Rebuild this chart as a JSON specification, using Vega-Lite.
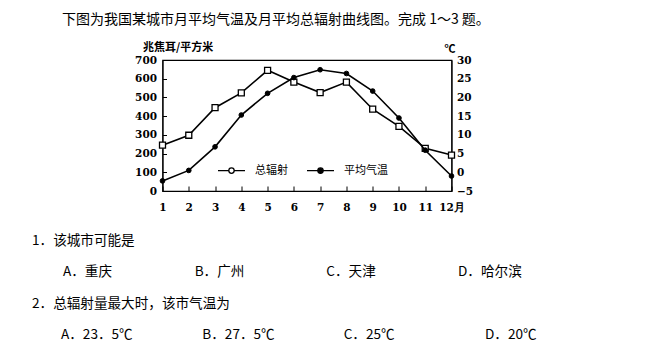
{
  "$schema": "https://vega.github.io/schema/vega-lite/v6.json",
  "background": "white",
  "padding": {"left": 32, "top": 13, "right": 5, "bottom": 5},
  "title": {
    "text": "下图为我国某城市月平均气温及月平均总辐射曲线图。完成 1～3 题。",
    "anchor": "start",
    "frame": "group",
    "dx": -1,
    "offset": 13,
    "font": "Noto Sans CJK SC",
    "fontSize": 14,
    "fontWeight": "normal",
    "color": "black"
  },
  "bounds": "flush",
  "center": true,
  "spacing": 50,
  "vconcat": [
    {
      "width": 289,
      "height": 131,
      "view": {"stroke": "black", "strokeWidth": 1.2},
      "data": {
        "values": [
          {"month": 1, "rad": 245, "temp": -2.3},
          {"month": 2, "rad": 298, "temp": 0.5},
          {"month": 3, "rad": 445, "temp": 6.8},
          {"month": 4, "rad": 524, "temp": 15.3},
          {"month": 5, "rad": 645, "temp": 21.1},
          {"month": 6, "rad": 582, "temp": 25.3},
          {"month": 7, "rad": 526, "temp": 27.4},
          {"month": 8, "rad": 582, "temp": 26.4},
          {"month": 9, "rad": 437, "temp": 21.7},
          {"month": 10, "rad": 345, "temp": 14.5},
          {"month": 11, "rad": 228, "temp": 5.9},
          {"month": 12, "rad": 192, "temp": -1.0}
        ]
      },
      "encoding": {
        "x": {
          "field": "month",
          "type": "quantitative",
          "scale": {"domain": [1, 12], "nice": false, "zero": false},
          "axis": {
            "values": [1, 2, 3, 4, 5, 6, 7, 8, 9, 10, 11, 12],
            "labelExpr": "datum.value == 12 ? '12月' : datum.label",
            "labelFlush": false,
            "tickSize": -5,
            "labelPadding": 16,
            "title": null,
            "grid": false,
            "domainColor": "black",
            "tickColor": "black",
            "labelColor": "black",
            "labelFont": "DejaVu Serif",
            "labelFontWeight": "bold",
            "labelFontSize": 10.5
          }
        }
      },
      "layer": [
        {
          "encoding": {
            "y": {
              "field": "rad",
              "type": "quantitative",
              "scale": {"domain": [0, 700], "nice": false},
              "axis": {
                "orient": "left",
                "values": [0, 100, 200, 300, 400, 500, 600, 700],
                "title": "兆焦耳/平方米",
                "titleAngle": 0,
                "titleAlign": "left",
                "titleBaseline": "middle",
                "titleX": -20,
                "titleY": -13,
                "titleFont": "Noto Sans CJK SC",
                "titleFontSize": 11,
                "titleFontWeight": "bold",
                "titleColor": "black",
                "tickSize": -4,
                "labelPadding": 10,
                "grid": false,
                "domainColor": "black",
                "tickColor": "black",
                "labelColor": "black",
                "labelFont": "DejaVu Serif",
                "labelFontWeight": "bold",
                "labelFontSize": 10.5
              }
            }
          },
          "layer": [
            {"mark": {"type": "line", "color": "black", "strokeWidth": 1.6}},
            {"mark": {"type": "point", "shape": "square", "filled": true, "fill": "white", "stroke": "black", "strokeWidth": 1.3, "size": 36, "opacity": 1}}
          ]
        },
        {
          "encoding": {
            "y": {
              "field": "temp",
              "type": "quantitative",
              "scale": {"domain": [-5, 30], "nice": false, "zero": false},
              "axis": {
                "orient": "right",
                "values": [-5, 0, 5, 10, 15, 20, 25, 30],
                "title": "℃",
                "titleAngle": 0,
                "titleAlign": "center",
                "titleBaseline": "middle",
                "titleX": -2,
                "titleY": -11,
                "titleFont": "Noto Sans CJK SC",
                "titleFontSize": 11,
                "titleFontWeight": "bold",
                "titleColor": "black",
                "ticks": false,
                "labelPadding": 5,
                "grid": false,
                "domainColor": "black",
                "labelColor": "black",
                "labelFont": "DejaVu Serif",
                "labelFontWeight": "bold",
                "labelFontSize": 10.5
              }
            }
          },
          "layer": [
            {"mark": {"type": "line", "color": "black", "strokeWidth": 1.6}},
            {
              "mark": {"type": "point", "filled": true, "stroke": "black", "strokeWidth": 1, "size": 22, "opacity": 1},
              "encoding": {
                "fill": {
                  "datum": "平均气温",
                  "type": "nominal",
                  "scale": {"domain": ["总辐射", "平均气温"], "range": ["white", "black"]},
                  "legend": {
                    "title": null,
                    "orient": "none",
                    "legendX": 154,
                    "legendY": 96,
                    "padding": 0,
                    "direction": "horizontal",
                    "symbolType": "M-1,0H-0.2M0.2,0H1M0.2,0A0.2,0.2,0,1,1,-0.2,0A0.2,0.2,0,1,1,0.2,0Z",
                    "symbolSize": 729,
                    "symbolStrokeColor": "black",
                    "symbolStrokeWidth": 1.3,
                    "symbolOpacity": 1,
                    "labelFont": "Noto Sans CJK SC",
                    "labelFontSize": 11,
                    "labelColor": "black",
                    "labelOffset": 9,
                    "columnPadding": 16
                  }
                }
              }
            }
          ]
        }
      ],
      "resolve": {"scale": {"y": "independent"}}
    },
    {
      "width": 488,
      "height": 94,
      "view": {"stroke": null},
      "layer": [
        {
          "data": {"values": [
            {"row": 1, "col": "A", "text": "1．该城市可能是"},
            {"row": 3, "col": "A", "text": "2．总辐射量最大时，该市气温为"}
          ]},
          "mark": {"type": "text", "align": "left", "baseline": "middle", "dx": -31, "font": "Noto Sans CJK SC", "fontSize": 13.6, "color": "black"},
          "encoding": {
            "x": {"field": "col", "type": "nominal", "scale": {"type": "point", "domain": ["A", "B", "C", "D"], "range": [0, 395], "padding": 0}, "axis": null},
            "y": {"field": "row", "type": "ordinal", "scale": {"type": "point", "domain": [1, 2, 3, 4], "padding": 0}, "axis": null},
            "text": {"field": "text"}
          }
        },
        {
          "data": {"values": [
            {"row": 2, "col": "A", "text": "A．重庆"},
            {"row": 2, "col": "B", "text": "B．广州"},
            {"row": 2, "col": "C", "text": "C．天津"},
            {"row": 2, "col": "D", "text": "D．哈尔滨"}
          ]},
          "mark": {"type": "text", "align": "left", "baseline": "middle", "font": "Noto Sans CJK SC", "fontSize": 13.6, "color": "black"},
          "encoding": {
            "x": {"field": "col", "type": "nominal", "scale": {"type": "point", "domain": ["A", "B", "C", "D"], "range": [0, 395], "padding": 0}, "axis": null},
            "y": {"field": "row", "type": "ordinal", "scale": {"type": "point", "domain": [1, 2, 3, 4], "padding": 0}, "axis": null},
            "text": {"field": "text"}
          }
        },
        {
          "data": {"values": [
            {"row": 4, "col": "A", "text": "A．23．5℃"},
            {"row": 4, "col": "B", "text": "B．27．5℃"},
            {"row": 4, "col": "C", "text": "C．25℃"},
            {"row": 4, "col": "D", "text": "D．20℃"}
          ]},
          "mark": {"type": "text", "align": "left", "baseline": "middle", "dx": -2, "font": "Noto Sans CJK SC", "fontSize": 13.6, "color": "black"},
          "encoding": {
            "x": {"field": "col", "type": "nominal", "scale": {"type": "point", "domain": ["A", "B", "C", "D"], "range": [0, 424], "padding": 0}, "axis": null},
            "y": {"field": "row", "type": "ordinal", "scale": {"type": "point", "domain": [1, 2, 3, 4], "padding": 0}, "axis": null},
            "text": {"field": "text"}
          }
        }
      ],
      "resolve": {"scale": {"x": "independent"}}
    }
  ]
}
